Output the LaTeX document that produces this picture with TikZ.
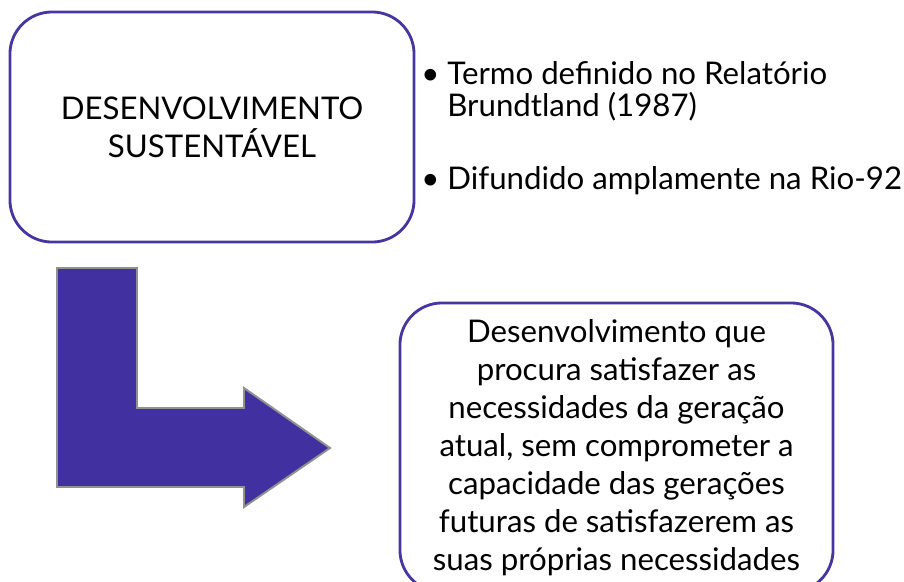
\documentclass[tikz,border=0pt]{standalone}
\usepackage{fontspec}
\setmainfont{Lato}
\usepackage{tikz}
\usetikzlibrary{positioning}
\definecolor{dspurple}{RGB}{70,54,160}
\definecolor{dsarrow}{RGB}{65,49,160}
\definecolor{dsgray}{RGB}{145,145,145}

\begin{document}
\begin{tikzpicture}[
  x=0.025cm, y=-0.025cm,
  box/.style={rectangle, draw=dspurple, line width=2pt, rounded corners=1.05cm,
              align=center, fill=white, inner sep=0pt},
  bigtext/.style={font=\fontsize{22.2}{27}\selectfont},
  listtext/.style={font=\fontsize{22.2}{22.8}\selectfont, align=left, inner sep=0pt},
  lshape/.style={fill=dsarrow, draw=dsgray, line width=1.4pt}
]
\useasboundingbox (0,0) rectangle (904,581);
\clip (0,0) rectangle (904,581);

% Nodes
\node[box, bigtext, minimum width=10.1cm, minimum height=5.75cm] (dsbox) at (212,127)
  {DESENVOLVIMENTO\\SUSTENTÁVEL};
\node[listtext, anchor=north west] (topics) at (421,61)
  {\textbullet\ Termo definido no Relatório\\
   \phantom{\textbullet\ }Brundtland (1987)\\[29pt]
   \textbullet\ Difundido amplamente na Rio-92};
\node[box, bigtext, minimum width=10.825cm, minimum height=7.225cm] (defbox) at (616.5,447.5)
  {Desenvolvimento que\\procura satisfazer as\\necessidades da geração\\atual, sem comprometer a\\
   capacidade das gerações\\futuras de satisfazerem as\\suas próprias necessidades};

% Arrow
\draw[lshape] (57,268) -- (137,268) -- (137,408) -- (244,408) -- (244,388)
  -- (330,448) -- (244,507) -- (244,487) -- (57,487) -- cycle;

\end{tikzpicture}
\end{document}
